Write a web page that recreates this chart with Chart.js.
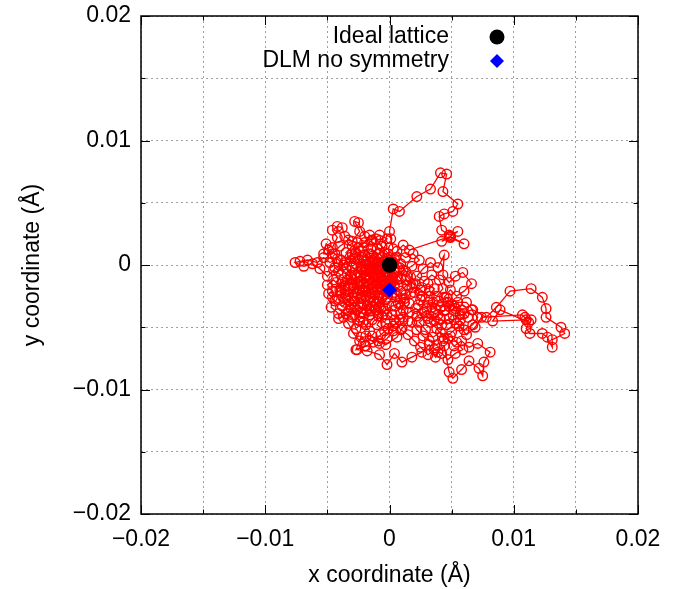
<!DOCTYPE html>
<html>
<head>
<meta charset="utf-8">
<script src="https://cdn.jsdelivr.net/npm/chart.js@4.4.0/dist/chart.umd.min.js"></script>
<style>
html, body { margin: 0; padding: 0; background: #fff; }
#wrap { width: 683px; height: 589px; }
</style>
</head>
<body>
<div id="wrap"><canvas id="posChart"></canvas></div>
<script>
const axisMin = -0.02, axisMax = 0.02, tickStep = 0.005;
const legendLabels = ['Ideal lattice', 'DLM no symmetry'];
const idealX = [0], idealY = [0];
const dlmX = [0], dlmY = [-0.002];

// atom position along the run (x, y in Å)
const walk = [
  [0,-0.0003],[-0.0005,0.0002],[-0.001,-0.0002],[-0.0014,0.0004],[-0.0009,0.0009],[-0.0015,0.0013],
  [-0.002,0.0008],[-0.0016,0.0002],[-0.0023,-0.0001],[-0.0028,0.0005],[-0.0024,0.0011],[-0.003,0.0015],
  [-0.0035,0.001],[-0.0031,0.0003],[-0.0037,0],[-0.0042,0.0005],[-0.0048,0.0002],[-0.0053,0.0006],
  [-0.0058,0.0002],[-0.0066,0.0004],[-0.0072,0.0003],[-0.0076,0.0002],[-0.0069,-0.0001],[-0.0062,0.0001],
  [-0.0056,-0.0003],[-0.005,-0.0009],[-0.0045,-0.0004],[-0.0039,-0.0008],[-0.0043,-0.0014],[-0.0036,-0.0017],
  [-0.0031,-0.0011],[-0.0026,-0.0016],[-0.0029,-0.0022],[-0.0035,-0.0025],[-0.004,-0.002],[-0.0046,-0.0026],
  [-0.0047,-0.0034],[-0.0041,-0.0039],[-0.0041,-0.0043],[-0.0035,-0.0039],[-0.003,-0.0042],[-0.0027,-0.0051],
  [-0.0021,-0.0046],[-0.0016,-0.0053],[-0.002,-0.0065],[-0.0027,-0.0068],[-0.0023,-0.0058],[-0.0014,-0.0057],
  [-0.0008,-0.0063],[-0.0002,-0.0059],[0.0003,-0.0053],[-0.0003,-0.0047],[-0.0009,-0.0041],[-0.0015,-0.0037],
  [-0.0021,-0.0032],[-0.0016,-0.0026],[-0.0022,-0.0021],[-0.0017,-0.0015],[-0.001,-0.0019],[-0.0005,-0.0013],
  [-0.0011,-0.0008],[-0.0006,-0.0003],[-0.0001,-0.0008],[0.0004,-0.0003],
  [0.0001,0.0004],[-0.0004,0.001],[-0.0007,0.0017],[-0.0002,0.0021],[-0.0008,0.0024],[-0.0014,0.002],
  [-0.002,0.0023],[-0.0025,0.0034],[-0.0028,0.0035],[-0.0024,0.0027],[-0.003,0.0019],[-0.0036,0.0023],
  [-0.0038,0.003],[-0.0042,0.0031],[-0.0046,0.0028],[-0.0042,0.0022],[-0.0046,0.0014],[-0.0051,0.0017],
  [-0.0053,0.0009],[-0.0046,0.0009],[-0.004,0.0015],[-0.0033,0.002],[-0.0026,0.0018],[-0.0021,0.0014],
  [-0.0015,0.0019],[-0.001,0.0013],[-0.0014,0.0007],[-0.0019,0.0003],[-0.0025,0.0005],[-0.0022,-0.0002],
  [-0.0016,-0.0005],[-0.0011,0.0001],[-0.0006,0.0006],
  [0.0003,0.0013],[0.0001,0.0021],[0,0.0027],[0.0003,0.0045],[0.0008,0.0043],[0.0022,0.0055],
  [0.0033,0.0061],[0.0041,0.0074],[0.0046,0.0073],[0.0043,0.0059],[0.0055,0.0049],[0.0051,0.0043],
  [0.0044,0.0041],[0.004,0.0039],[0.0042,0.0028],[0.0048,0.0024],[0.0055,0.0027],[0.0049,0.0023],
  [0.0042,0.0019],[0.0049,0.0022],[0.006,0.0017],[0.0049,0.0023],[0.0016,0.0012],[0.0011,0.0016],
  [0.0006,0.0011],[0.0013,0.0006],[0.0019,0.0009],[0.0024,0.0004],[0.0018,-0.0001],[0.0011,-0.0004],
  [0.0006,-0.001],
  [0,-0.0015],[-0.0006,-0.002],[-0.0012,-0.0024],[-0.0008,-0.003],[-0.0002,-0.0026],[0.0004,-0.0022],
  [0.0009,-0.0027],[0.0005,-0.0033],[0.0011,-0.0036],[0.0016,-0.0031],[0.0013,-0.0024],[0.0018,-0.0018],
  [0.0013,-0.0012],[0.0007,-0.0016],[0.0002,-0.0011],[-0.0003,-0.0006],[-0.0009,-0.0011],[-0.0014,-0.0015],
  [-0.002,-0.0011],[-0.0025,-0.0006],[-0.003,-0.0002],[-0.0034,-0.0007],[-0.003,-0.0014],[-0.0024,-0.0019],
  [-0.0028,-0.0027],[-0.0023,-0.0031],[-0.0017,-0.0028],[-0.0012,-0.0034],[-0.0016,-0.004],[-0.0024,-0.0042],
  [-0.0031,-0.0035],[-0.0036,-0.003],[-0.0041,-0.0028],[-0.0043,-0.0021],[-0.0038,-0.0014],[-0.0033,-0.0019],
  [-0.0026,-0.0023],[-0.002,-0.002],[-0.0015,-0.0023],[-0.0009,-0.0027],[-0.0003,-0.0035],[0.0002,-0.004],
  [0.0008,-0.0044],[0.0003,-0.0049],[-0.0004,-0.0053],[-0.001,-0.0048],[-0.0006,-0.0042],[-0.0011,-0.0036],
  [-0.0019,-0.0036],[-0.0023,-0.0027],[-0.0019,-0.0021],[-0.0013,-0.0018],[-0.0007,-0.0022],[-0.0004,-0.0016],
  [0,-0.0009],[-0.0005,-0.0004],[-0.001,-0.0007],[-0.0015,-0.0002],[-0.002,-0.0005],[-0.0026,-0.001],
  [-0.0021,-0.0015],[-0.0016,-0.0011],[-0.0011,-0.0014],[-0.0007,-0.0009],[-0.0002,-0.0002],[0.0003,0.0002],
  [0.0008,-0.0002],[0.0005,0.0006],[-0.0002,0.0005],[-0.0008,0.0002],[-0.0013,-0.0003],[-0.0018,0.0001],
  [-0.0006,-0.0012],[0,-0.0019],[0.0006,-0.0025],[0.0012,-0.003],[0.0009,-0.0039],[0.0015,-0.0045],
  [0.001,-0.0051],[0.0006,-0.0058],[-0.0003,-0.0064],[-0.0009,-0.0061],[-0.0019,-0.0065],[-0.0026,-0.0068],
  [-0.0018,-0.0069],[-0.0008,-0.0072],[-0.0002,-0.008],[0.0004,-0.0071],[0.001,-0.0078],[0.0018,-0.0074],
  [0.0026,-0.007],[0.0032,-0.0064],[0.0037,-0.0074],[0.0039,-0.007],[0.0044,-0.0065],[0.0048,-0.0086],
  [0.0051,-0.0091],[0.0058,-0.0084],[0.0064,-0.0077],[0.0072,-0.0083],[0.0075,-0.0089],[0.0076,-0.0078],
  [0.0081,-0.007],[0.0071,-0.0063],[0.0064,-0.0066],[0.0058,-0.0061],[0.0052,-0.0065],[0.0047,-0.0059],
  [0.0041,-0.0054],[0.0035,-0.0058],[0.0029,-0.0052],[0.0024,-0.0046],[0.003,-0.0041],[0.0036,-0.0045],
  [0.0042,-0.0048],[0.0048,-0.0043],[0.0054,-0.0047],[0.006,-0.0052],[0.0067,-0.0048],[0.0071,-0.0042],
  [0.0066,-0.0036],[0.006,-0.0039],[0.0053,-0.0035],[0.0047,-0.003],[0.0041,-0.0034],[0.0035,-0.003],
  [0.003,-0.0035],[0.0023,-0.0032],[0.0026,-0.0025],[0.0032,-0.0021],[0.0038,-0.0025],[0.0043,-0.0019],
  [0.004,-0.0012],[0.0034,-0.0008],[0.0028,-0.0013],[0.0022,-0.0009],[0.0027,-0.0003],[0.0033,0.0002],
  [0.0039,-0.0002],[0.0044,0.0008],[0.0043,-0.0008],[0.0048,-0.0014],[0.0053,-0.0009],[0.0059,-0.0006],
  [0.0066,-0.0015],[0.006,-0.0021],[0.0054,-0.0025],[0.0049,-0.002],[0.0044,-0.0026],[0.0048,-0.0033],
  [0.0055,-0.003],[0.0062,-0.003],[0.0067,-0.0036],[0.0078,-0.0042],[0.0086,-0.0034],[0.0097,-0.0021],
  [0.0114,-0.0019],[0.0123,-0.0026],[0.0126,-0.0035],[0.0126,-0.0042],[0.0138,-0.005],[0.0141,-0.0055],
  [0.0131,-0.006],[0.0131,-0.0066],[0.0127,-0.0058],[0.0123,-0.0055],[0.0113,-0.0055],[0.011,-0.0051],
  [0.0114,-0.0044],[0.0109,-0.0042],[0.0112,-0.0046],[0.0089,-0.0036],[0.0083,-0.0045],[0.011,-0.0044],
  [0.0107,-0.004],[0.0074,-0.0042],[0.0069,-0.005],[0.0062,-0.0056],[0.0056,-0.0049],[0.005,-0.0054],
  [0.0044,-0.0059],[0.0038,-0.0051],[0.0033,-0.0046],[0.0039,-0.004],[0.0045,-0.0036],[0.0051,-0.004],
  [0.0057,-0.0044],[0.0063,-0.0042],[0.0058,-0.0036],[0.005,-0.0032],[0.0044,-0.0037],[0.0037,-0.0035],
  [0.0031,-0.003],[0.0025,-0.0028],[0.002,-0.0022],[0.0026,-0.0018],[0.0031,-0.0015],[0.0036,-0.0019],
  [0.0032,-0.0025],[0.0025,-0.002],[0.0019,-0.0015],[0.0014,-0.0009],[0.0008,-0.0005],[0.0003,-0.0013],
  [-0.0003,-0.0018],[-0.0008,-0.0015],[-0.0014,-0.0019],[-0.0019,-0.0025],[-0.0024,-0.002],[-0.0029,-0.0016],
  [-0.0034,-0.0012],[-0.0039,-0.0018],[-0.0045,-0.0012],[-0.005,-0.0016],[-0.0046,-0.0021],[-0.0049,-0.0023],
  [-0.0044,-0.0029],[-0.0038,-0.0033],[-0.0033,-0.0029],[-0.0028,-0.0034],[-0.0023,-0.0038],[-0.0018,-0.0033],
  [-0.0013,-0.0029],[-0.0008,-0.0033],[-0.0003,-0.0028],[0.0002,-0.0024],[0,-0.0013],[-0.0005,-0.0009],
  [-0.001,-0.0004],[-0.0016,-0.0008],[-0.0022,-0.0004],[-0.0027,0.0001],[-0.0032,0.0006],[-0.0027,0.001],
  [-0.0022,0.0006],[-0.0017,0.0009],[-0.0012,0.0005],[-0.0007,0],[-0.0002,-0.0005],[0.0002,-0.001],
  [-0.0002,-0.0015],[-0.0007,-0.0019],[-0.0012,-0.0012],[-0.0018,-0.0017],[-0.0023,-0.0013],[-0.0028,-0.0008],
  [-0.0023,-0.0003],[-0.0017,-0.0001],[-0.0012,0.0002],[-0.0006,-0.0002],[0,0.0001],
  [-0.0004,-0.0006],[-0.0009,-0.0001],[-0.0014,-0.0006],[-0.0019,-0.0009],[-0.0024,-0.0014],[-0.0029,-0.0019],
  [-0.0033,-0.0024],[-0.0028,-0.0029],[-0.0022,-0.0026],[-0.0017,-0.0021],[-0.0012,-0.0017],[-0.0007,-0.0013],
  [-0.0002,-0.0009],[0.0004,-0.0006],[0.0009,-0.0011],[0.0014,-0.0016],[0.0009,-0.0021],[0.0004,-0.0017],
  [-0.0001,-0.0022],[-0.0006,-0.0026],[-0.0011,-0.0031],[-0.0016,-0.0035],[-0.0021,-0.0039],[-0.0026,-0.0036],
  [-0.0031,-0.0032],[-0.0036,-0.0027],[-0.0039,-0.0022],[-0.0036,-0.0016],[-0.0031,-0.0008],[-0.0035,-0.0003],
  [-0.0039,0.0004],[-0.0044,0.0009],[-0.0049,0.0012],[-0.0044,-0.0002],[-0.0041,-0.0005],[-0.0036,0.0002],
  [-0.003,0.0009],[-0.0025,0.0014],[-0.002,0.0018],[-0.0016,0.0024],[-0.0011,0.0021],[-0.0006,0.0015],
  [-0.0001,0.0009],[0.0004,0.0005],[0.0009,0.0001],[0.0013,-0.0005],[0.0017,-0.001],[0.0021,-0.0015],
  [0.0017,-0.0023],[0.0012,-0.0027],[0.0007,-0.0031],[0.0002,-0.0033],[-0.0004,-0.0037],[-0.0009,-0.0039],
  [-0.0014,-0.0044],[-0.0019,-0.0048],[-0.0024,-0.0045],[-0.0028,-0.004],[-0.0033,-0.0037],[-0.0037,-0.0042],
  [-0.0033,-0.0047],[-0.0029,-0.0055],[-0.0024,-0.0061],[-0.0019,-0.0057],[-0.0013,-0.0062],[-0.0007,-0.0056],
  [-0.0001,-0.0051],[0.0005,-0.0047],[0.0011,-0.0042],[0.0016,-0.0038],[0.0021,-0.0035],[0.0026,-0.0039],
  [0.0031,-0.0043],[0.0036,-0.0039],[0.0041,-0.0043],[0.0046,-0.0048],[0.0052,-0.0044],[0.0057,-0.0039],
  [0.0052,-0.0033],[0.0046,-0.0026],[0.004,-0.0029],[0.0034,-0.0034],[0.0028,-0.0038],[0.0022,-0.0041],
  [0.0018,-0.0046],[0.0022,-0.0052],[0.0027,-0.0057],[0.0032,-0.0061],[0.0038,-0.0064],[0.0043,-0.0061],
  [0.0049,-0.0057],[0.0054,-0.0062],[0.0059,-0.0068],[0.0053,-0.0071],[0.0047,-0.0076],[0.0042,-0.0071],
  [0.0036,-0.0068],[0.0031,-0.0072],[0.0025,-0.0066],[0.002,-0.0061],[0.0015,-0.0056],[0.0009,-0.0052],
  [0.0004,-0.0044],[-0.0002,-0.004],[-0.0007,-0.0035],[-0.0012,-0.0029],[-0.0008,-0.0024],[-0.0003,-0.002],
  [0.0001,-0.0016],[-0.0003,-0.001],[-0.0008,-0.0006],[-0.0013,-0.0009],[-0.0018,-0.0013],[-0.0023,-0.0009],
  [-0.0019,-0.0003],[-0.0014,0.0002],[-0.0009,0.0005],[-0.0004,0.0003],[0.0001,-0.0002]
];

const FONT = "'Liberation Sans', Arial, Helvetica, sans-serif";
Chart.defaults.font.family = FONT;
Chart.defaults.font.size = 23;
Chart.defaults.color = '#000';

function tickLabel(v) {
  const m = Math.round(v * 1000);
  if (m % 10 !== 0) return '';
  if (m === 0) return '0';
  return (m < 0 ? '\u2212' : '') + (Math.abs(m) / 1000).toFixed(2);
}

// gnuplot-like frame with inward ticks on all sides, plus the key
const framePlugin = {
  id: 'frame',
  afterDraw(chart) {
    const { ctx, chartArea: a, scales: { x, y } } = chart;
    ctx.save();
    ctx.strokeStyle = '#000';
    ctx.lineWidth = 1;
    ctx.beginPath();
    x.ticks.forEach(t => {
      const px = Math.round(x.getPixelForValue(t.value)) + 0.5;
      const len = tickLabel(t.value) ? 9 : 4.5;
      ctx.moveTo(px, a.bottom); ctx.lineTo(px, a.bottom - len);
      ctx.moveTo(px, a.top); ctx.lineTo(px, a.top + len);
    });
    y.ticks.forEach(t => {
      const py = Math.round(y.getPixelForValue(t.value)) + 0.5;
      const len = tickLabel(t.value) ? 9 : 4.5;
      ctx.moveTo(a.left, py); ctx.lineTo(a.left + len, py);
      ctx.moveTo(a.right, py); ctx.lineTo(a.right - len, py);
    });
    ctx.stroke();
    ctx.lineWidth = 1.5;
    ctx.strokeRect(a.left, a.top, a.right - a.left, a.bottom - a.top);

    // key
    ctx.font = '23px ' + FONT;
    ctx.fillStyle = '#000';
    ctx.textAlign = 'right';
    ctx.textBaseline = 'middle';
    const textX = a.right - 189, markX = a.right - 141;
    const rowY = [a.top + 21, a.top + 45];
    ctx.fillText(legendLabels[0], textX, rowY[0]);
    ctx.fillText(legendLabels[1], textX, rowY[1]);
    ctx.beginPath();
    ctx.arc(markX, rowY[0], 7.5, 0, Math.PI * 2);
    ctx.fill();
    ctx.fillStyle = '#0000ff';
    ctx.beginPath();
    ctx.moveTo(markX, rowY[1] - 7); ctx.lineTo(markX + 7, rowY[1]);
    ctx.lineTo(markX, rowY[1] + 7); ctx.lineTo(markX - 7, rowY[1]);
    ctx.closePath();
    ctx.fill();
    ctx.restore();
  }
};

const gridOpts = { color: '#a0a0a0', lineWidth: 1, drawTicks: false };

new Chart(document.getElementById('posChart'), {
  type: 'scatter',
  data: {
    datasets: [
      {
        label: legendLabels[0],
        data: idealX.map((v, i) => ({ x: v, y: idealY[i] })),
        pointStyle: 'circle',
        pointRadius: 7.8,
        pointBackgroundColor: '#000',
        pointBorderWidth: 0
      },
      {
        label: legendLabels[1],
        data: dlmX.map((v, i) => ({ x: v, y: dlmY[i] })),
        pointStyle: 'rectRot',
        pointRadius: 7.5,
        pointBackgroundColor: '#0000ff',
        pointBorderWidth: 0
      },
      {
        label: 'trajectory',
        data: walk.map(p => ({ x: p[0], y: p[1] })),
        showLine: true,
        borderColor: '#ff0000',
        borderWidth: 1.3,
        pointStyle: 'circle',
        pointRadius: 4.8,
        pointBackgroundColor: 'rgba(0,0,0,0)',
        pointBorderColor: '#ff0000',
        pointBorderWidth: 1.4
      }
    ]
  },
  options: {
    animation: false,
    responsive: true,
    maintainAspectRatio: false,
    layout: { padding: { left: 0, top: 16, right: 45, bottom: 0 } },
    scales: {
      x: {
        type: 'linear',
        position: 'bottom',
        min: axisMin,
        max: axisMax,
        afterFit(s) { s.height = 75; s.paddingLeft = 0; s.paddingRight = 0; },
        grid: gridOpts,
        border: { display: false, dash: [2, 3] },
        ticks: { stepSize: tickStep, autoSkip: false, maxRotation: 0, padding: 12, callback: tickLabel },
        title: { display: true, text: 'x coordinate (Å)', padding: { top: 0, bottom: 0 } }
      },
      y: {
        type: 'linear',
        min: axisMin,
        max: axisMax,
        afterFit(s) { s.width = 141; s.paddingTop = 0; s.paddingBottom = 0; },
        grid: gridOpts,
        border: { display: false, dash: [2, 3] },
        ticks: { stepSize: tickStep, autoSkip: false, padding: 10, callback: tickLabel },
        title: { display: true, text: 'y coordinate (Å)', padding: { top: 19, bottom: 0 } }
      }
    },
    plugins: {
      legend: { display: false },
      tooltip: { enabled: false }
    }
  },
  plugins: [framePlugin]
});
</script>
</body>
</html>
